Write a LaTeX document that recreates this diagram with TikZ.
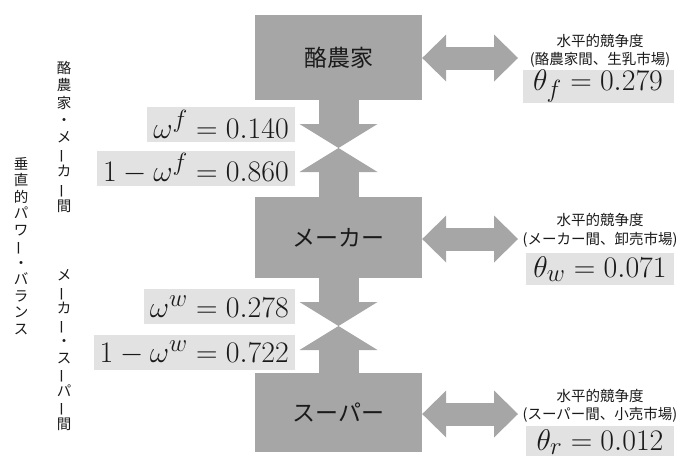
\documentclass[tikz,border=0pt]{standalone}
\usepackage{graphicx}
\usepackage{fontspec}
\newfontfamily\jp{Noto Sans CJK JP}
\usetikzlibrary{arrows.meta,calc}
\definecolor{boxgray}{HTML}{A6A6A6}
\definecolor{labgray}{HTML}{E2E2E2}
\definecolor{ink}{HTML}{1A1A1A}
\newcommand\vchoon{\rotatebox[origin=c]{90}{ー}}
\newcommand\bigmath[1]{\scalebox{1.2}{$#1$}}
\tikzset{
 stage/.style={fill=boxgray, minimum width=167pt, inner sep=0pt, font=\jp\fontsize{23}{26}\selectfont, text=ink},
 mathlab/.style={fill=labgray, inner xsep=6pt, inner ysep=0pt, minimum height=35pt, font=\fontsize{24.88}{28}\selectfont, text=ink},
 heading/.style={font=\jp\fontsize{14.5}{17}\selectfont, text=ink, inner sep=0pt},
 vlab/.style={font=\jp\fontsize{14.5}{16.5}\selectfont, align=center, text=ink, inner sep=0pt},
 vflow/.style={draw=boxgray, line width=40pt, -{Triangle[width=78pt,length=24pt,line width=0pt]}},
 hflow/.style={draw=boxgray, line width=23pt, {Triangle[width=47pt,length=24pt,line width=0pt]}-{Triangle[width=47pt,length=24pt,line width=0pt]}},
}
\begin{document}
\begin{tikzpicture}[x=1pt,y=-1pt]
\useasboundingbox (0,0) rectangle (684,455);
% stage boxes
\node[stage, minimum height=85pt] (b1) at (338.5,57.5) {酪農家};
\node[stage, minimum height=81pt] (b2) at (338.5,237.5) {メーカー};
\node[stage, minimum height=79pt] (b3) at (338.5,412.5) {スーパー};
% vertical power arrows
\coordinate (m1) at (338.5,148);
\coordinate (m2) at (338.5,326);
\draw[vflow] (b1.south) -- (m1);
\draw[vflow] (b2.north) -- (m1);
\draw[vflow] (b2.south) -- (m2);
\draw[vflow] (b3.north) -- (m2);
% horizontal competition arrows
\coordinate (e1) at (518,58);
\coordinate (e2) at (518,239);
\coordinate (e3) at (518,414);
\draw[hflow] (b1.east |- e1) -- (e1);
\draw[hflow] (b2.east |- e2) -- (e2);
\draw[hflow] (b3.east |- e3) -- (e3);
% left math labels
\node[mathlab, anchor=east] (wf) at (295,124.5) {\bigmath{\omega^{f} = 0.140}};
\node[mathlab, anchor=east] (wf1) at (295,168.5) {\bigmath{1-\omega^{f} = 0.860}};
\node[mathlab, anchor=east] (ww) at (295,306.5) {\bigmath{\omega^{w} = 0.278}};
\node[mathlab, anchor=east] (ww1) at (295,352.5) {\bigmath{1-\omega^{w} = 0.722}};
% right labels
\node[heading] (h1) at (600,41) {水平的競争度};
\node[heading] (p1) at (600,60) {(酪農家間、生乳市場)};
\node[mathlab, minimum width=151pt, minimum height=33pt] (t1) at (598,86) {\bigmath{\theta_{f} = 0.279}};
\node[heading] (h2) at (600,220) {水平的競争度};
\node[heading] (p2) at (600,240) {(メーカー間、卸売市場)};
\node[mathlab, minimum width=148pt, minimum height=32pt] (t2) at (600,269) {\bigmath{\theta_{w} = 0.071}};
\node[heading] (h3) at (600,396) {水平的競争度};
\node[heading] (p3) at (600,415) {(スーパー間、小売市場)};
\node[mathlab, minimum width=148pt, minimum height=32pt] (t3) at (600,442) {\bigmath{\theta_{r} = 0.012}};
% vertical side labels
\node[vlab, font=\jp\fontsize{14.5}{17.2}\selectfont] (v1) at (64,137) {酪\\農\\家\\・\\メ\\\vchoon\\カ\\\vchoon\\間};
\node[vlab] (v2) at (64,350) {メ\\\vchoon\\カ\\\vchoon\\・\\ス\\\vchoon\\パ\\\vchoon\\間};
\node[vlab] (v3) at (21,246) {垂\\直\\的\\パ\\ワ\\\vchoon\\・\\バ\\ラ\\ン\\ス};
\end{tikzpicture}
\end{document}
